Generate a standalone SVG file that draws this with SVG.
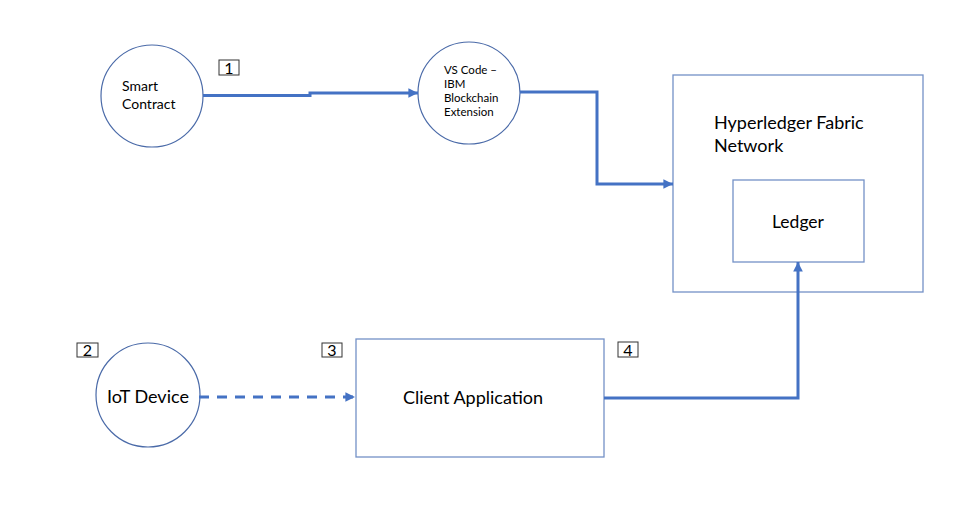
<svg xmlns="http://www.w3.org/2000/svg" width="974" height="518" viewBox="0 0 974 518">
<style>
text{font-family:Lato,"Open Sans","Liberation Sans",sans-serif;fill:#000}
.circ{fill:#fff;stroke:#4a6aa8;stroke-width:1.2}
.box{fill:#fff;stroke:#7391c7;stroke-width:1.3}
.conn{fill:none;stroke:#4472c4;stroke-width:3}
.num rect{fill:#fff;stroke:#333;stroke-width:1}
.num text{font-size:16px;text-anchor:middle}
</style>
<defs>
<marker id="ah" viewBox="0 0 10 10" refX="10" refY="5" markerWidth="3.2" markerHeight="3.2" orient="auto" markerUnits="strokeWidth">
<path d="M0,0 L10,5 L0,10 z" fill="#4472c4"/>
</marker>
</defs>
<rect width="974" height="518" fill="#fff"/>
<g id="smart-contract">
<circle class="circ" cx="152" cy="96" r="51"/>
<text x="122" y="91" font-size="14">Smart</text>
<text x="122" y="109" font-size="14">Contract</text>
</g>
<g id="vscode">
<circle class="circ" cx="469" cy="93" r="51"/>
<text x="444" y="74" font-size="11.5">VS Code –</text>
<text x="444" y="88" font-size="11.5">IBM</text>
<text x="444" y="102" font-size="11.5">Blockchain</text>
<text x="444" y="116" font-size="11.5">Extension</text>
</g>
<g id="fabric-network">
<rect class="box" x="673" y="75" width="250" height="217"/>
<text x="714" y="129" font-size="18">Hyperledger Fabric</text>
<text x="714" y="152" font-size="18">Network</text>
</g>
<g id="ledger">
<rect class="box" x="733" y="180" width="131" height="82"/>
<text x="798" y="228" font-size="17.5" text-anchor="middle">Ledger</text>
</g>
<g id="iot-device">
<circle class="circ" cx="148" cy="395" r="52"/>
<text x="148" y="403" font-size="18" text-anchor="middle">IoT Device</text>
</g>
<g id="client-app">
<rect class="box" x="356" y="339" width="248" height="118"/>
<text x="473" y="404" font-size="18" text-anchor="middle">Client Application</text>
</g>
<g id="label-1" class="num"><rect x="219" y="60" width="20" height="15"/><text x="229" y="73.5">1</text></g>
<g id="label-2" class="num"><rect x="77" y="343" width="21" height="14"/><text x="87.5" y="356">2</text></g>
<g id="label-3" class="num"><rect x="322" y="343" width="20" height="14"/><text x="332" y="356">3</text></g>
<g id="label-4" class="num"><rect x="618" y="342" width="20" height="15"/><text x="628" y="355.5">4</text></g>
<g id="connectors">
<path class="conn" d="M203,95.5 H310 V93 H418" marker-end="url(#ah)"/>
<path class="conn" d="M520,92 H597 V184 H673" marker-end="url(#ah)"/>
<path class="conn" d="M199,397 H355" stroke-dasharray="10,8" marker-end="url(#ah)"/>
<path class="conn" d="M604,398 H798 V262" marker-end="url(#ah)"/>
</g>
</svg>
